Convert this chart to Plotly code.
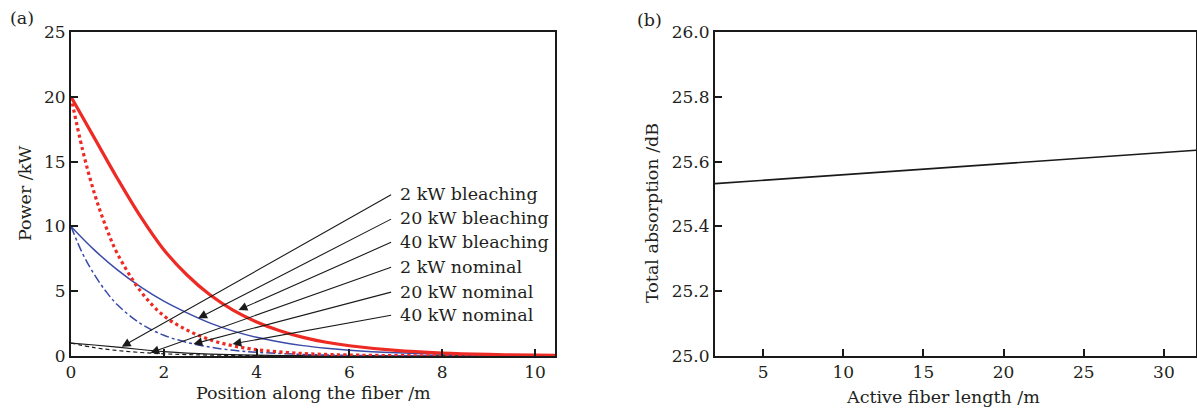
import plotly.graph_objects as go

# ---------------- data: panel (a) ----------------
pos_red_solid = [0, 0.5, 1, 1.5, 2, 2.5, 3, 3.5, 4, 4.5, 5, 5.5, 6, 7, 8, 9, 10, 10.45]
pow_red_solid = [20, 16.85, 13.7, 10.75, 8.2, 6.25, 4.7, 3.52, 2.63, 1.95, 1.44, 1.06, 0.79, 0.43, 0.23, 0.12, 0.06, 0.05]

pos_red_dot = [0, 0.25, 0.5, 0.75, 1, 1.5, 2, 2.5, 3, 3.5, 4, 5, 6, 7, 8, 10.45]
pow_red_dot = [20, 15.9, 12.6, 10.0, 7.9, 5.0, 3.1, 2.0, 1.25, 0.78, 0.49, 0.19, 0.075, 0.03, 0.012, 0.0]

pos_blue_solid = [0, 0.5, 1, 1.5, 2, 2.5, 3, 3.5, 4, 4.5, 5, 5.5, 6, 7, 8, 9, 10, 10.45]
pow_blue_solid = [10, 8.19, 6.64, 5.33, 4.23, 3.33, 2.54, 1.92, 1.44, 1.08, 0.80, 0.60, 0.45, 0.25, 0.14, 0.08, 0.044, 0.034]

pos_blue_dd = [0, 0.25, 0.5, 0.75, 1, 1.5, 2, 2.5, 3, 3.5, 4, 5, 6, 7, 8, 10.45]
pow_blue_dd = [10, 7.9, 6.3, 5.0, 3.95, 2.5, 1.6, 1.05, 0.68, 0.44, 0.29, 0.12, 0.05, 0.02, 0.01, 0.0]

pos_black_solid = [0, 0.5, 1, 1.5, 2, 2.5, 3, 4, 5, 6, 8, 10.45]
pow_black_solid = [1, 0.85, 0.68, 0.5, 0.34, 0.22, 0.14, 0.06, 0.025, 0.01, 0.003, 0.0]

pos_black_dash = [0, 0.5, 1, 1.5, 2, 2.5, 3, 4, 5, 10.45]
pow_black_dash = [1, 0.65, 0.42, 0.27, 0.17, 0.11, 0.07, 0.03, 0.01, 0.0]

labels = ["2 kW bleaching", "20 kW bleaching", "40 kW bleaching",
          "2 kW nominal", "20 kW nominal", "40 kW nominal"]
label_x = [7.05] * 6
label_y = [12.5, 10.62, 8.82, 6.89, 4.96, 3.16]
tail_x = [6.93] * 6
head_x = [1.095, 2.74, 3.61, 1.71, 2.64, 3.48]
head_y = [0.72, 2.91, 3.55, 0.25, 0.93, 0.93]

# ---------------- data: panel (b) ----------------
length_m = [2, 32]
absorption_db = [25.532, 25.635]

RED = "#ee2a24"
BLUE = "#3a4aa8"
BLACK = "#1a1a1a"
FONT = "DejaVu Serif"
TXT = "#231f20"
FS = 17
FS_T = 17.5

fig = go.Figure()

def add(x, y, color, width, dash, xa="x", ya="y"):
    fig.add_trace(go.Scatter(x=x, y=y, mode="lines", xaxis=xa, yaxis=ya,
                             line=dict(color=color, width=width, dash=dash, shape="spline", smoothing=1.0),
                             showlegend=False, hoverinfo="skip"))

add(pos_black_dash, pow_black_dash, BLACK, 1.2, "4px,3px")
add(pos_black_solid, pow_black_solid, BLACK, 1.2, "solid")
add(pos_blue_dd, pow_blue_dd, BLUE, 1.5, "dashdot")
add(pos_blue_solid, pow_blue_solid, BLUE, 1.5, "solid")
add(pos_red_dot, pow_red_dot, RED, 3.2, "dot")
add(pos_red_solid, pow_red_solid, RED, 3.2, "solid")

fig.add_trace(go.Scatter(x=length_m, y=absorption_db, mode="lines", xaxis="x2", yaxis="y2",
                         line=dict(color=BLACK, width=1.6), showlegend=False, hoverinfo="skip"))

W, H = 1197, 409
def px(v):
    return v / W
def py(v):
    return (H - v) / H

axis_common = dict(showline=True, linewidth=2, linecolor=BLACK, mirror=True,
                   ticks="inside", ticklen=7, tickwidth=2, tickcolor=BLACK,
                   showgrid=False, zeroline=False, automargin=False,
                   tickfont=dict(family=FONT, size=FS, color=TXT))

fig.update_layout(
    width=W, height=H,
    margin=dict(l=0, r=0, t=0, b=0, autoexpand=False),
    paper_bgcolor="white", plot_bgcolor="white",
    xaxis=dict(domain=[px(71), px(555)], range=[0, 10.43], tickvals=[0, 2, 4, 6, 8, 10],
               anchor="y", **axis_common),
    yaxis=dict(domain=[py(356), py(32)], range=[0, 25], tickvals=[0, 5, 10, 15, 20, 25],
               anchor="x", **axis_common),
    xaxis2=dict(domain=[px(715), px(1196)], range=[2, 32], tickvals=[5, 10, 15, 20, 25, 30],
                anchor="y2", **axis_common),
    yaxis2=dict(domain=[py(356), py(32)], range=[25, 26], tickvals=[25, 25.2, 25.4, 25.6, 25.8, 26],
                tickformat=".1f", anchor="x2", **axis_common),
)

ann = []
for lx, ly, txt in zip(label_x, label_y, labels):
    ann.append(dict(x=lx, y=ly, xref="x", yref="y", text=txt, showarrow=False,
                    xanchor="left", yanchor="middle", font=dict(family=FONT, size=FS_T, color=TXT)))
for tx, ty, hx, hy in zip(tail_x, label_y, head_x, head_y):
    ann.append(dict(x=hx, y=hy, xref="x", yref="y", ax=tx, ay=ty, axref="x", ayref="y",
                    text="", showarrow=True, arrowhead=2, arrowsize=1.6, arrowwidth=1.1,
                    arrowcolor=BLACK))

def title(x, y, text, angle=0):
    return dict(x=px(x), y=py(y), xref="paper", yref="paper", text=text, showarrow=False,
                xanchor="center", yanchor="middle", textangle=angle,
                font=dict(family=FONT, size=FS_T, color=TXT))

ann += [
    title(313, 393, "Position along the fiber /m"),
    title(25, 194, "Power /kW", -90),
    title(943, 397, "Active fiber length /m"),
    title(652, 213, "Total absorption /dB", -90),
    title(22, 18, "(a)"),
    title(649, 20, "(b)"),
]
fig.update_layout(annotations=ann)

fig.write_html("out.html", config={"displayModeBar": False, "staticPlot": True},
               post_script="document.body.style.margin='0px';document.body.style.overflow='hidden';")
